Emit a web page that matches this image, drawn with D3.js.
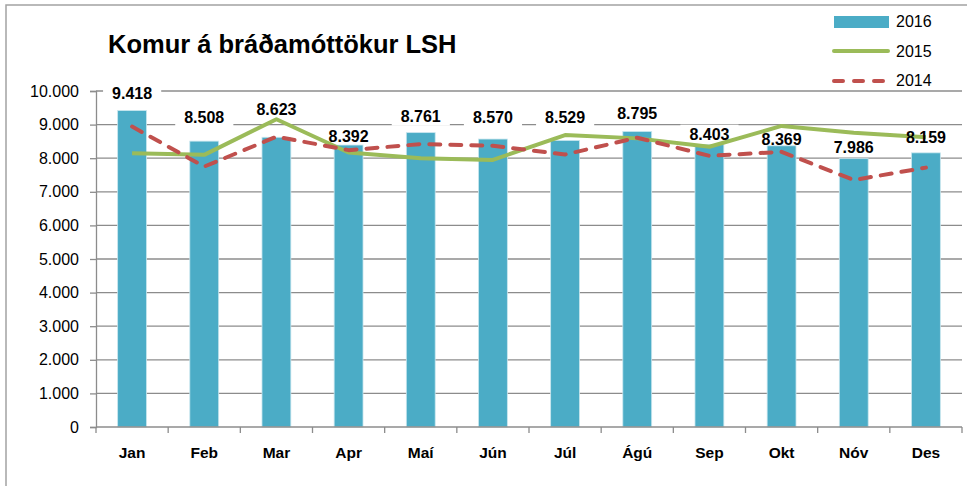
<!DOCTYPE html>
<html>
<head>
<meta charset="utf-8">
<script src="https://cdn.jsdelivr.net/npm/d3@7"></script>
<style>
  body { margin: 0; background: #fff; }
  svg { display: block; font-family: "Liberation Sans", Arial, sans-serif; }
</style>
</head>
<body>
<svg width="967" height="486"></svg>
<script>
// months and the three years
const months = ["Jan", "Feb", "Mar", "Apr", "Maí", "Jún", "Júl", "Ágú", "Sep", "Okt", "Nóv", "Des"];
const y2016 = [9418, 8508, 8623, 8392, 8761, 8570, 8529, 8795, 8403, 8369, 7986, 8159];
const y2015 = [8150, 8100, 9160, 8170, 8000, 7950, 8690, 8590, 8340, 8960, 8760, 8620];
const y2014 = [8940, 7750, 8640, 8240, 8420, 8370, 8110, 8610, 8070, 8190, 7350, 7720];
const yTicks = [0, 1000, 2000, 3000, 4000, 5000, 6000, 7000, 8000, 9000, 10000];

// labels were nudged by hand in the original, keep that lift (px above bar top)
const labelLift = [12, 18, 22, 3, 11, 16, 17, 12, 5, 1, 6, 10];

const fmt = v => d3.format(",")(v).replace(/,/g, ".");

const svg = d3.select("svg");

// outer chart border (only left/top visible)
svg.append("rect")
  .attr("x", 6).attr("y", 5).attr("width", 980).attr("height", 500)
  .attr("fill", "none").attr("stroke", "#a3a3a3").attr("stroke-width", 1.5);

const x = d3.scaleBand().domain(months).range([96, 962]);
const y = d3.scaleLinear().domain([0, 10000]).range([427, 91]);
const cx = i => x(months[i]) + x.bandwidth() / 2;

// gridlines
svg.append("g")
  .selectAll("line")
  .data(yTicks.slice(1))
  .join("line")
  .attr("x1", 96).attr("x2", 962)
  .attr("y1", d => y(d)).attr("y2", d => y(d))
  .attr("stroke", "#8c8c8c").attr("stroke-width", 1.3);

// white boxes behind labels go under bars and lines, only hide the gridlines
const boxLayer = svg.append("g");

// bars
const bw = x.bandwidth() * 0.4;
svg.append("g")
  .selectAll("rect")
  .data(y2016)
  .join("rect")
  .attr("x", (d, i) => cx(i) - bw / 2)
  .attr("y", d => y(d))
  .attr("width", bw)
  .attr("height", d => y(0) - y(d))
  .attr("fill", "#4bacc6")
  .attr("stroke", "#c9e6ee").attr("stroke-width", 0.8);

const line = d3.line()
  .x((d, i) => cx(i))
  .y(d => y(d));

svg.append("path")
  .datum(y2015)
  .attr("d", line)
  .attr("fill", "none").attr("stroke", "#9bbb59").attr("stroke-width", 4)
  .attr("stroke-linejoin", "round");

svg.append("path")
  .datum(y2014)
  .attr("d", line)
  .attr("fill", "none").attr("stroke", "#c0504d").attr("stroke-width", 4)
  .attr("stroke-dasharray", "11,10").attr("stroke-linecap", "round")
  .attr("stroke-linejoin", "round");

// axes
const yAxis = svg.append("g")
  .attr("transform", "translate(96,0)")
  .call(d3.axisLeft(y).tickValues(yTicks).tickFormat(fmt).tickSize(6).tickPadding(11));
yAxis.select(".domain").attr("stroke", "#8c8c8c").attr("stroke-width", 1.3);
yAxis.selectAll(".tick line").attr("stroke", "#8c8c8c").attr("stroke-width", 1.3);
yAxis.selectAll("text")
  .attr("font-family", "Liberation Sans, Arial, sans-serif")
  .attr("font-size", 16).attr("fill", "#000");

const xAxis = svg.append("g").attr("transform", "translate(0,427)");
xAxis.append("line")
  .attr("x1", 96).attr("x2", 962).attr("y1", 0).attr("y2", 0)
  .attr("stroke", "#8c8c8c").attr("stroke-width", 1.3);
xAxis.selectAll("line.tk")
  .data(months.concat(["end"]))
  .join("line")
  .attr("class", "tk")
  .attr("x1", (d, i) => 96 + i * x.bandwidth())
  .attr("x2", (d, i) => 96 + i * x.bandwidth())
  .attr("y1", 0).attr("y2", 6)
  .attr("stroke", "#8c8c8c").attr("stroke-width", 1.3);
xAxis.selectAll("text")
  .data(months)
  .join("text")
  .attr("x", d => x(d) + x.bandwidth() / 2)
  .attr("y", 31)
  .attr("text-anchor", "middle")
  .attr("font-size", 15.5).attr("font-weight", "bold")
  .text(d => d);

// data labels
const lblText = svg.append("g")
  .selectAll("text")
  .data(y2016)
  .join("text")
  .attr("x", (d, i) => cx(i))
  .attr("y", (d, i) => y(d) - labelLift[i])
  .attr("text-anchor", "middle")
  .attr("font-size", 16).attr("font-weight", "bold")
  .text(d => fmt(d));
lblText.each(function () {
  const b = this.getBBox();
  boxLayer.append("rect")
    .attr("x", b.x - 9).attr("y", b.y - 1)
    .attr("width", b.width + 18).attr("height", b.height + 2)
    .attr("fill", "#fff");
});

// title
svg.append("text")
  .attr("x", 108).attr("y", 53)
  .attr("font-size", 25.5).attr("font-weight", "bold")
  .text("Komur á bráðamóttökur LSH");

// legend
const leg = svg.append("g");
leg.append("rect")
  .attr("x", 834).attr("y", 16).attr("width", 55).attr("height", 12)
  .attr("fill", "#4bacc6");
leg.append("line")
  .attr("x1", 834).attr("x2", 888).attr("y1", 51).attr("y2", 51)
  .attr("stroke", "#9bbb59").attr("stroke-width", 4).attr("stroke-linecap", "round");
leg.append("line")
  .attr("x1", 834).attr("x2", 888).attr("y1", 81).attr("y2", 81)
  .attr("stroke", "#c0504d").attr("stroke-width", 4)
  .attr("stroke-dasharray", "9,11").attr("stroke-linecap", "round");
leg.selectAll("text")
  .data(["2016", "2015", "2014"])
  .join("text")
  .attr("x", 896)
  .attr("y", (d, i) => 27 + i * 29.5)
  .attr("font-size", 16)
  .text(d => d);
</script>
</body>
</html>
